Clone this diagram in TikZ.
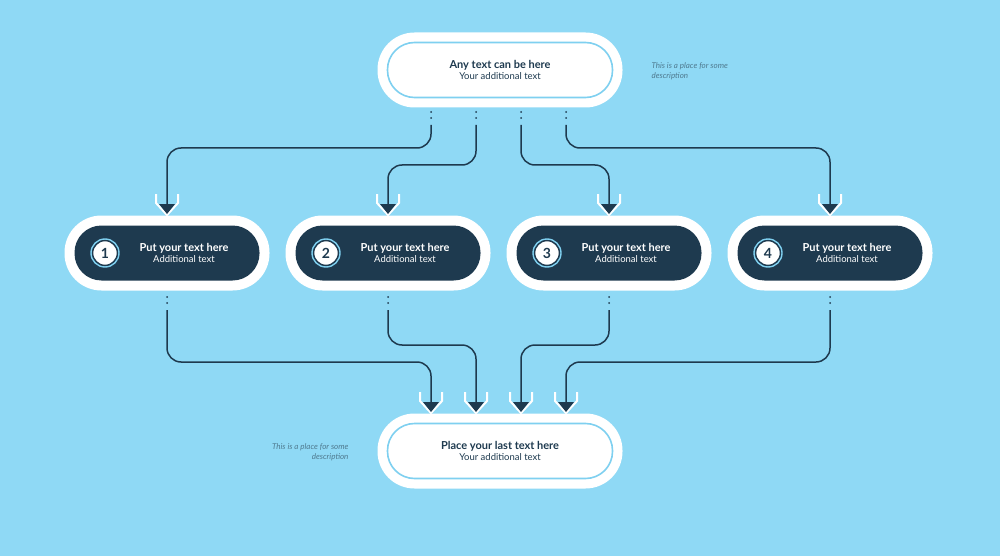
\documentclass[tikz,border=0pt]{standalone}
\usepackage{fontspec}
\setmainfont{Lato}
\usetikzlibrary{positioning}
\definecolor{bgblue}{HTML}{8FD9F5}
\definecolor{navy}{HTML}{1E3A4F}
\definecolor{ringblue}{HTML}{7FD0F0}
\definecolor{notegray}{HTML}{4F7A8F}
\tikzset{
  outerpill/.style={draw=none, fill=white, rounded corners=37pt, minimum width=245pt, minimum height=75pt},
  innerpill/.style={draw=ringblue, line width=1.6pt, fill=white, rounded corners=27pt, minimum width=225pt, minimum height=55pt, align=center, text=navy},
  stepouter/.style={draw=none, fill=white, rounded corners=37pt, minimum width=205pt, minimum height=75pt},
  stepinner/.style={fill=navy, rounded corners=27pt, minimum width=185pt, minimum height=55pt},
  numcirc/.style={circle, fill=white, draw=navy, double=ringblue, double distance=1.4pt, line width=1.6pt, minimum size=28pt, inner sep=0pt, font=\bfseries\fontsize{14}{14}\selectfont, text=navy},
  steptext/.style={align=center, text=white},
  note/.style={font=\itshape\fontsize{8}{10}\selectfont, text=notegray},
  link/.style={draw=navy, line width=1.5pt, rounded corners=14pt},
  dots/.style={navy, line width=2pt, line cap=round, dash pattern=on 0pt off 6pt},
  pics/headtip/.style={code={
    \draw[white, line width=2pt, line join=miter] (-11,-21) -- (-11,-12) -- (0,0) -- (11,-12) -- (11,-21);
    \fill[navy] (-8,-11) -- (8,-11) -- (0,-1) -- cycle;
  }}
}
\begin{document}
\begin{tikzpicture}[x=1pt,y=-1pt]
  \fill[bgblue] (0,0) rectangle (1000,556);
  \useasboundingbox (0,0) rectangle (1000,556);

  % top and bottom boxes
  \node[outerpill] (topout) at (500,70) {};
  \node[innerpill] (top) at (500,70) {{\bfseries\fontsize{11}{12}\selectfont Any text can be here}\\[-1pt]{\fontsize{9.5}{11}\selectfont Your additional text}};
  \node[outerpill] (botout) at (500,451) {};
  \node[innerpill] (bot) at (500,451) {{\bfseries\fontsize{11}{12}\selectfont Place your last text here}\\[-1pt]{\fontsize{9.5}{11}\selectfont Your additional text}};

  % notes
  \node[note, anchor=north west, align=left] (topnote) at (648,59) {This is a place for some\\description};
  \node[note, anchor=north east, align=right] (botnote) at (352,440) {This is a place for some\\description};

  % the four steps
  \foreach \x/\n in {167/1, 388/2, 609/3, 830/4} {
    \node[stepouter] (out\n) at (\x,253) {};
    \node[stepinner] (step\n) at (\x,253) {};
    \node[numcirc] (num\n) at (\x-62,253) {\n};
    \node[steptext] (txt\n) at (\x+17,253) {{\bfseries\fontsize{11}{12}\selectfont Put your text here}\\[-1pt]{\fontsize{9.5}{11}\selectfont Additional text}};
  }

  % start and end points
  \foreach \x/\n in {431/1, 476/2, 521/3, 566/4} {
    \coordinate (ts\n) at (\x,125);
    \coordinate (be\n) at (\x,413);
    \draw[dots] (\x,112) -- (\x,119);
  }
  \foreach \x/\n in {167/1, 388/2, 609/3, 830/4} {
    \coordinate (te\n) at (\x,215);
    \coordinate (bs\n) at (\x,310);
    \draw[dots] (\x,297) -- (\x,304);
  }

  % connectors down from the top box
  \draw[link] (ts1) -- ++(0,23) -| ([yshift=10]te1);
  \draw[link] (ts2) -- ++(0,40) -| ([yshift=10]te2);
  \draw[link] (ts3) -- ++(0,40) -| ([yshift=10]te3);
  \draw[link] (ts4) -- ++(0,23) -| ([yshift=10]te4);
  % connectors into the last box
  \draw[link] (bs1) -- ++(0,52) -| ([yshift=10]be1);
  \draw[link] (bs2) -- ++(0,35) -| ([yshift=10]be2);
  \draw[link] (bs3) -- ++(0,35) -| ([yshift=10]be3);
  \draw[link] (bs4) -- ++(0,52) -| ([yshift=10]be4);

  % arrow heads
  \foreach \n in {1,2,3,4} {
    \pic at (te\n) {headtip};
    \pic at (be\n) {headtip};
  }
\end{tikzpicture}
\end{document}
